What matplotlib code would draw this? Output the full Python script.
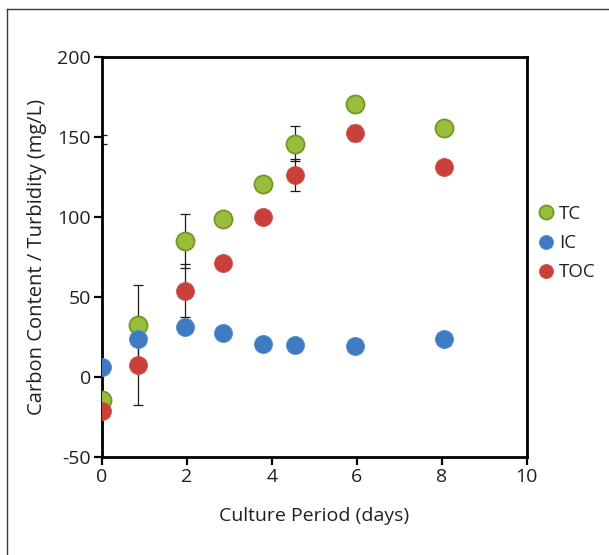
import matplotlib
matplotlib.use('Agg')
import matplotlib.pyplot as plt
from matplotlib.lines import Line2D
import numpy as np

plt.rcParams['font.family'] = ['Open Sans', 'DejaVu Sans']
plt.rcParams['axes.unicode_minus'] = False

# --- datos ---
days_tc = [0.0, 0.85, 1.95, 2.85, 3.8, 4.55, 5.95, 8.05]
tc = [-14.5, 32.5, 85, 99, 121, 146, 171, 156]
tc_err = [166, 25, 17, 0, 0, 11, 5, 0]

days_ic = [0.0, 0.85, 1.95, 2.85, 3.8, 4.55, 5.95, 8.05]
ic = [6, 24, 31, 27.5, 20.5, 20, 19.5, 24]

days_toc = [0.0, 0.85, 1.95, 2.85, 3.8, 4.55, 5.95, 8.05]
toc = [-21, 7.5, 54, 71, 100, 126.5, 152.5, 131.5]
toc_err = [167, 25, 16.5, 0, 0, 10, 5, 0]

TEXT = '#231f20'

fig = plt.figure(figsize=(6.09, 5.55), dpi=100)
ax = fig.add_axes([0.1675, 0.1766, 0.6975, 0.7204])

# barras de error primero (debajo de los puntos)
ax.errorbar(days_tc, tc, yerr=tc_err, fmt='none', ecolor='#1a1a1a', elinewidth=0.9,
            capsize=3.6, capthick=0.9, zorder=2)
ax.errorbar(days_toc, toc, yerr=toc_err, fmt='none', ecolor='#1a1a1a', elinewidth=0.9,
            capsize=3.6, capthick=0.9, zorder=2)

ax.plot(days_tc, tc, 'o', ms=13, mfc='#9bbd3c', mec='#6e9a24', mew=1.3, label='TC', zorder=3)
ax.plot(days_ic, ic, 'o', ms=13, mfc='#3f7bc2', mec='#5a8fcf', mew=0.6, label='IC', zorder=3)
ax.plot(days_toc, toc, 'o', ms=13, mfc='#c9403a', mec='#d05a52', mew=0.6, label='TOC', zorder=3)

ax.set_xlim(0, 10)
ax.set_ylim(-50, 200)
ax.set_xticks(np.arange(0, 11, 2))
ax.set_yticks(np.arange(-50, 201, 50))

for s in ax.spines.values():
    s.set_linewidth(2.0)
    s.set_color('black')
ax.tick_params(direction='out', length=6, width=1.6, colors='black',
               labelcolor=TEXT, labelsize=14, pad=2)

ax.set_xlabel('Culture Period (days)', fontsize=14, color=TEXT, labelpad=15)
ax.set_ylabel('Carbon Content / Turbidity (mg/L)', fontsize=14.5, color=TEXT, labelpad=7)

leg = ax.legend(loc='center left', bbox_to_anchor=(1.0, 0.535), frameon=False,
                fontsize=13.5, markerscale=0.78, handlelength=0.6, handletextpad=0.4,
                labelspacing=0.6, borderaxespad=0.3)
for t in leg.get_texts():
    t.set_color(TEXT)

# marco exterior (solo izquierda y arriba)
fig.add_artist(Line2D([0.0115, 0.0115], [0.0, 0.984], color='#3a3a3a', lw=1.0))
fig.add_artist(Line2D([0.0115, 1.0], [0.984, 0.984], color='#3a3a3a', lw=1.0))

fig.savefig('out.png', dpi=100)
